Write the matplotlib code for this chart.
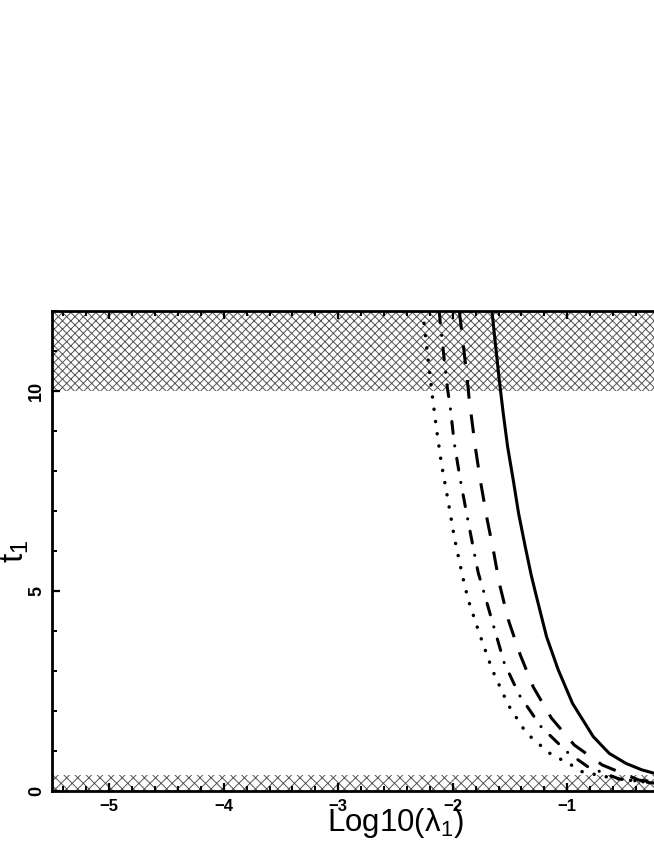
import matplotlib
matplotlib.use("Agg")
import matplotlib.pyplot as plt
from matplotlib.ticker import MultipleLocator

# ---- data ----
solid_x = [-1.658, -1.594, -1.559, -1.521, -1.472, -1.425, -1.367, -1.315, -1.268,
           -1.181, -1.079, -0.954, -0.773, -0.633, -0.487, -0.35, -0.249, -0.10]
solid_t = [12.0, 10.28, 9.44, 8.61, 7.78, 6.94, 6.11, 5.40, 4.85,
           3.86, 3.03, 2.19, 1.36, 0.94, 0.69, 0.53, 0.45, 0.37]

dashed_x = [-1.943, -1.926, -1.873, -1.856, -1.803, -1.760, -1.699, -1.646, -1.594,
            -1.515, -1.410, -1.297, -1.140, -0.939, -0.694, -0.371, -0.15]
dashed_t = [12.0, 11.6, 10.28, 9.78, 8.6, 7.78, 6.78, 6.03, 5.2,
            4.28, 3.4, 2.6, 1.83, 1.15, 0.65, 0.27, 0.21]

dashdot_x = [-2.118, -2.109, -2.048, -2.022, -1.987, -1.934, -1.873, -1.812, -1.777,
             -1.734, -1.646, -1.550, -1.419, -1.227, -0.991, -0.817, -0.546, -0.25, -0.10]
dashdot_t = [12.0, 11.7, 10.1, 9.6, 8.7, 7.78, 6.85, 5.95, 5.45,
             5.03, 4.15, 3.2, 2.4, 1.6, 0.95, 0.6, 0.3, 0.2, 0.18]

dotted_x = [-2.266, -2.249, -2.188, -2.144, -2.100, -2.039, -1.987, -1.917, -1.865,
            -1.769, -1.655, -1.515, -1.358, -1.157, -0.965, -0.869, -0.60, -0.30, -0.10]
dotted_t = [12.0, 11.65, 10.1, 9.1, 8.2, 7.23, 6.35, 5.4, 4.78,
            3.95, 3.03, 2.15, 1.45, 0.95, 0.65, 0.48, 0.32, 0.22, 0.20]

excluded_top = [10, 12]
excluded_bottom = [0, 0.4]

x_major = [-5, -4, -3, -2, -1]
x_labels = ['\u22125', '\u22124', '\u22123', '\u22122', '\u22121']
y_major = [0, 5, 10]
y_labels = ['0', '5', '10']

# ---- styling ----
plt.rcParams['font.family'] = ['Liberation Sans', 'DejaVu Sans']
plt.rcParams['hatch.linewidth'] = 0.7
plt.rcParams['lines.scale_dashes'] = False

fig = plt.figure(figsize=(6.54, 8.46), dpi=100)
ax = fig.add_axes([52/654, 55/846, 687/654, 480/846])

ax.set_xlim(-5.5, 0.5)
ax.set_ylim(0, 12)

ax.axhspan(excluded_top[0], excluded_top[1], facecolor='white', edgecolor='#555555',
           hatch='xxxx', linewidth=0, zorder=1)
ax.axhspan(excluded_bottom[0], excluded_bottom[1], facecolor='white', edgecolor='#555555',
           hatch='xxx', linewidth=0, zorder=1)

lw = 2.2
ax.plot(solid_x, solid_t, color='black', lw=lw, solid_capstyle='butt',
        solid_joinstyle='round', zorder=3)
ax.plot(dashed_x, dashed_t, color='black', lw=lw, linestyle=(0, (13.5, 11.5)),
        dash_capstyle='butt', zorder=3)
ax.plot(dashdot_x, dashdot_t, color='black', lw=lw, linestyle=(0, (8.6, 9.0, 0.1, 9.0)),
        dash_capstyle='round', zorder=3)
ax.plot(dotted_x, dotted_t, color='black', lw=2.5, linestyle=(0, (0.1, 8.8)),
        dash_capstyle='round', zorder=3)

for s in ax.spines.values():
    s.set_linewidth(2.0)
    s.set_zorder(4)

ax.set_xticks(x_major)
ax.set_xticklabels(x_labels)
ax.set_yticks(y_major)
ax.set_yticklabels(y_labels, rotation=90, va='center')
ax.xaxis.set_minor_locator(MultipleLocator(0.2))
ax.yaxis.set_minor_locator(MultipleLocator(1))
ax.tick_params(which='both', direction='in', top=True, right=True)
ax.tick_params(which='major', length=6, width=1.6, pad=6)
ax.tick_params(axis='x', which='major', labelsize=12)
ax.tick_params(axis='y', which='major', labelsize=13, pad=5)
ax.tick_params(which='minor', length=3.5, width=1.4)
for lab in ax.get_xticklabels() + ax.get_yticklabels():
    lab.set_fontweight('bold')

ax.set_xlabel('$\\mathregular{Log10(\u03bb_1)}$', fontsize=22.5)
ax.xaxis.set_label_coords(0.5, -0.031)
ax.set_ylabel('$\\mathregular{t_1}$', fontsize=24)
ax.yaxis.set_label_coords(-0.030, 0.5)

fig.savefig('out.png', dpi=100)
